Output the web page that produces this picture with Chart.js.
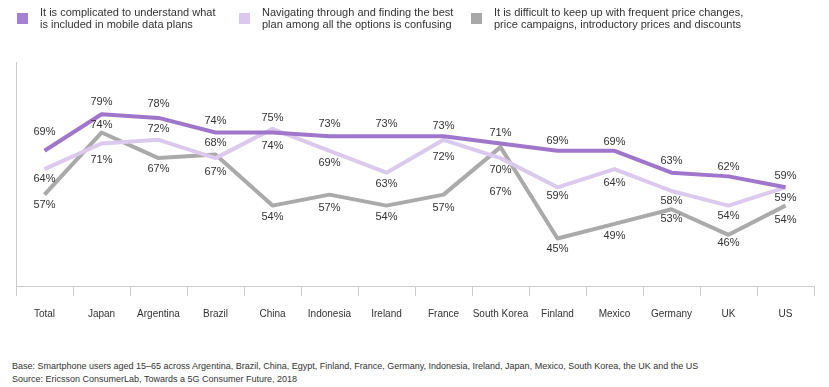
<!DOCTYPE html>
<html>
<head>
<meta charset="utf-8">
<script src="https://cdn.jsdelivr.net/npm/chart.js@4/dist/chart.umd.min.js"></script>
<style>
  body { margin: 0; background: #fff; font-family: "Liberation Sans", Arial, sans-serif; color: #333; }
  #wrap { position: relative; width: 829px; height: 387px; overflow: hidden; }
  #opChart { position: absolute; left: 0; top: 0; }
  .leg { position: absolute; top: 6px; font-size: 11px; line-height: 12px; color: #333; }
  .leg span { position: absolute; left: -23px; top: 7px; width: 11px; height: 11px; }
  .foot { position: absolute; left: 12px; font-size: 9px; color: #333; white-space: nowrap; }
</style>
</head>
<body>
<div id="wrap">
  <canvas id="opChart" width="829" height="332"></canvas>
  <div class="leg" style="left:40px"><span style="background:#a680d4"></span>It is complicated to understand what<br>is included in mobile data plans</div>
  <div class="leg" style="left:262px"><span style="background:#dbc8ee"></span>Navigating through and finding the best<br>plan among all the options is confusing</div>
  <div class="leg" style="left:494px"><span style="background:#a8a8a8"></span>It is difficult to keep up with frequent price changes,<br>price campaigns, introductory prices and discounts</div>
  <div class="foot" style="top:361px">Base: Smartphone users aged 15–65 across Argentina, Brazil, China, Egypt, Finland, France, Germany, Indonesia, Ireland, Japan, Mexico, South Korea, the UK and the US</div>
  <div class="foot" style="top:374px">Source: Ericsson ConsumerLab, Towards a 5G Consumer Future, 2018</div>
</div>
<script>
var countries = ["Total", "Japan", "Argentina", "Brazil", "China", "Indonesia", "Ireland", "France", "South Korea", "Finland", "Mexico", "Germany", "UK", "US"];
var complicated = [69, 79, 78, 74, 74, 73, 73, 73, 71, 69, 69, 63, 62, 59];
var navigating = [64, 71, 72, 67, 75, 69, 63, 72, 67, 59, 64, 58, 54, 59];
var priceChanges = [57, 74, 67, 68, 54, 57, 54, 57, 70, 45, 49, 53, 46, 54];

// label offsets (px) from each point, negative = above
var offComplicated = [-19, -12, -14, -12, 13, -12, -12, -10, -11, -10, -9, -12, -9, -11];
var offNavigating = [10, 16, -11, 14, -11, 12, 11, 17, 34, 9, 14, 10, 10, 11];
var offPrice = [10, -8, 11, -11, 11, 13, 11, 13, 23, 10, 12, 10, 8, 14];

var valueLabels = {
    id: "valueLabels",
    afterDatasetsDraw: function(chart){
        var ctx = chart.ctx;
        ctx.save();
        ctx.font = "11px 'Liberation Sans', Arial, sans-serif";
        ctx.fillStyle = "#333";
        ctx.textAlign = "center";
        ctx.textBaseline = "middle";
        chart.data.datasets.forEach(function(ds, i){
            var meta = chart.getDatasetMeta(i);
            meta.data.forEach(function(pt, j){
                ctx.fillText(ds.data[j] + "%", pt.x, pt.y + ds.labelOffsets[j]);
            });
        });
        ctx.restore();
    }
};

function line(data, color, offsets){
    return {
        data: data,
        borderColor: color,
        backgroundColor: color,
        borderWidth: 4,
        pointRadius: 0,
        tension: 0,
        borderJoinStyle: "round",
        labelOffsets: offsets
    };
}

new Chart("opChart", {
    type: "line",
    data: {
        labels: countries,
        datasets: [
            line(complicated, "#9f76cb", offComplicated),
            line(navigating, "#dcc9ee", offNavigating),
            line(priceChanges, "#aaaaaa", offPrice)
        ]
    },
    options: {
        responsive: false,
        animation: false,
        layout: {padding: {left: 16, right: 15, top: 62, bottom: 0}},
        plugins: {legend: {display: false}, tooltip: {enabled: false}},
        scales: {
            x: {
                offset: true,
                grid: {
                    offset: true,
                    drawOnChartArea: true,
                    color: function(c){ return c.index === 0 ? "#cccccc" : "rgba(0,0,0,0)"; },
                    tickColor: "#cccccc",
                    tickLength: 10
                },
                border: {color: "#cccccc"},
                ticks: {
                    color: "#333",
                    padding: 12,
                    maxRotation: 0,
                    autoSkip: false,
                    font: {family: "'Liberation Sans', Arial, sans-serif", size: 10}
                }
            },
            y: {display: false, min: 32, max: 93.3}
        }
    },
    plugins: [valueLabels]
});
</script>
</body>
</html>
